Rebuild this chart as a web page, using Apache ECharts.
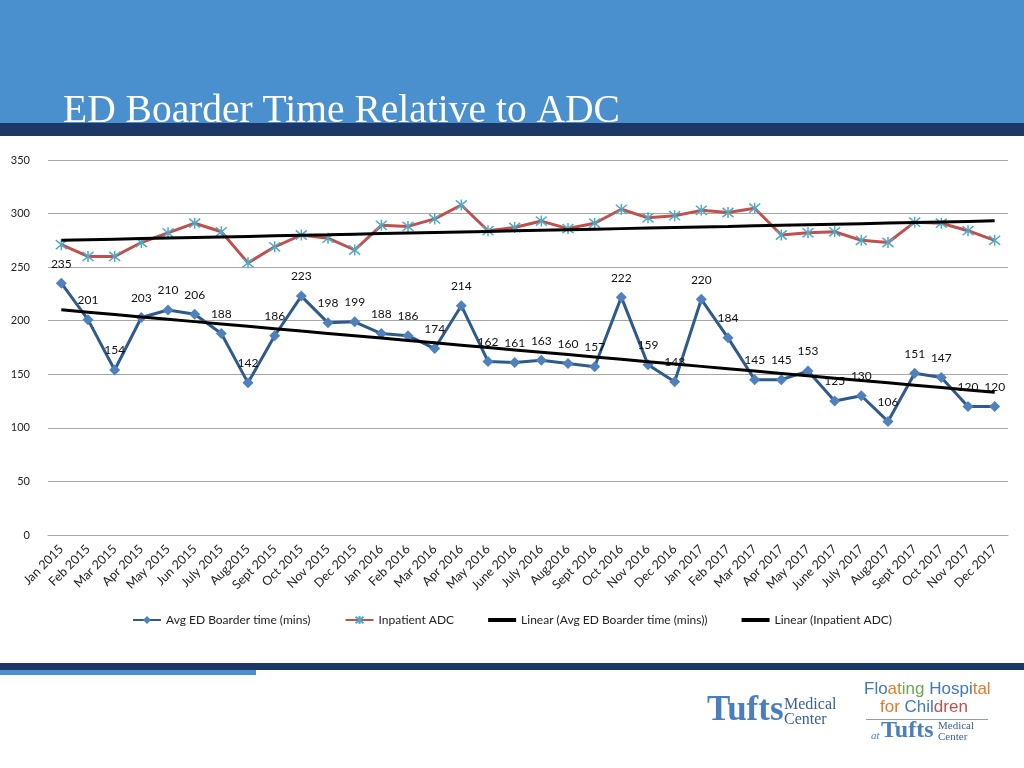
<!DOCTYPE html>
<html>
<head>
<meta charset="utf-8">
<script src="https://cdn.jsdelivr.net/npm/echarts@6/dist/echarts.min.js"></script>
<style>
html,body{margin:0;padding:0;background:#fff;}
#c{width:1024px;height:768px;}
</style>
</head>
<body>
<div id="c"></div>
<script>
var categories = ["Jan 2015","Feb 2015","Mar 2015","Apr 2015","May 2015","Jun 2015","July 2015","Aug2015","Sept 2015","Oct 2015","Nov 2015","Dec 2015",
"Jan 2016","Feb 2016","Mar 2016","Apr 2016","May 2016","June 2016","July 2016","Aug2016","Sept 2016","Oct 2016","Nov 2016","Dec 2016",
"Jan 2017","Feb 2017","Mar 2017","Apr 2017","May 2017","June 2017","July 2017","Aug2017","Sept 2017","Oct 2017","Nov 2017","Dec 2017"];
var avgBoarder = [235,201,154,203,210,206,188,142,186,223,198,199,188,186,174,214,162,161,163,160,157,222,159,143,220,184,145,145,153,125,130,106,151,147,120,120];
var inpatientADC = [271,260,260,273,282,291,283,254,269,280,277,266,289,288,295,308,284,287,293,286,291,304,296,298,303,301,305,280,282,283,275,273,292,291,284,275];
var yTicks = [0,50,100,150,200,250,300,350];

function linearFit(arr){
  var n=arr.length,sx=0,sy=0,sxx=0,sxy=0;
  for(var i=0;i<n;i++){sx+=i;sy+=arr[i];sxx+=i*i;sxy+=i*arr[i];}
  var b=(n*sxy-sx*sy)/(n*sxx-sx*sx), a=(sy-b*sx)/n;
  return arr.map(function(_,i){return +(a+b*i).toFixed(2);});
}
var trendAvg = linearFit(avgBoarder);
var trendADC = linearFit(inpatientADC);

var chart = echarts.init(document.getElementById('c'), null, {renderer:'canvas'});
var font = 'Lato, "Open Sans", sans-serif';
var asterisk = 'path://M0,0 L10,10 M10,0 L0,10 M5,-1 L5,11';
var barIcon = 'path://M0,0 L28,0 L28,4 L0,4 Z';

chart.setOption({
  animation:false,
  backgroundColor:'#fff',
  textStyle:{fontFamily:font},
  graphic:[
    {type:'rect',shape:{x:0,y:0,width:1024,height:123},style:{fill:'#4a90cf'},z:-10},
    {type:'rect',shape:{x:0,y:123,width:1024,height:13},style:{fill:'#1c3866'},z:-10},
    {type:'text',left:63,top:92,style:{text:'ED Boarder Time Relative to ADC',fill:'#fff',font:'39.5px "Liberation Serif", serif'}},
    {type:'rect',shape:{x:0,y:663,width:1024,height:7},style:{fill:'#1c3866'}},
    {type:'rect',shape:{x:0,y:670,width:256,height:5},style:{fill:'#4a90cf'}},
    {type:'text',left:707,top:693,style:{text:'Tufts',fill:'#4a7fbf',font:'bold 35px "Liberation Serif", serif'}},
    {type:'text',left:784,top:697,style:{text:'Medical\nCenter',fill:'#3b5f8f',font:'16px "Liberation Serif", serif',lineHeight:15}},
    {type:'text',left:864,top:681,style:{
      text:'{a|Flo}{b|at}{c|ing }{d|Hos}{a|pi}{b|tal}',
      rich:{a:{fill:'#3f79b8',font:'17px "Liberation Sans Narrow", sans-serif'},b:{fill:'#e07b2a',font:'17px "Liberation Sans Narrow", sans-serif'},c:{fill:'#6aa84f',font:'17px "Liberation Sans Narrow", sans-serif'},d:{fill:'#3f79b8',font:'17px "Liberation Sans Narrow", sans-serif'}}}},
    {type:'text',left:880,top:699,style:{
      text:'{b|for }{a|Chil}{c|dren}',
      rich:{a:{fill:'#3f79b8',font:'17px "Liberation Sans Narrow", sans-serif'},b:{fill:'#e07b2a',font:'17px "Liberation Sans Narrow", sans-serif'},c:{fill:'#c0504d',font:'17px "Liberation Sans Narrow", sans-serif'}}}},
    {type:'rect',shape:{x:866,y:719,width:122,height:1},style:{fill:'#8aa0b8'}},
    {type:'text',left:871,top:731,style:{text:'at',fill:'#4a7fbf',font:'italic 11px "Liberation Serif", serif'}},
    {type:'text',left:881,top:719,style:{text:'Tufts',fill:'#4a7fbf',font:'bold 24px "Liberation Serif", serif'}},
    {type:'text',left:938,top:721,style:{text:'Medical\nCenter',fill:'#3b5f8f',font:'11px "Liberation Serif", serif',lineHeight:11}}
  ],
  grid:{left:48,right:16,top:160,bottom:233,containLabel:false},
  legend:{
    top:609,left:'center',itemGap:34,itemWidth:28,itemHeight:10,
    textStyle:{fontSize:12,color:'#222',fontFamily:font},
    data:[
      {name:'Avg ED Boarder time (mins)'},
      {name:'Inpatient ADC'},
      {name:'Linear (Avg ED Boarder time (mins))',icon:barIcon,itemStyle:{color:'#000'}},
      {name:'Linear (Inpatient ADC)',icon:barIcon,itemStyle:{color:'#000'}}
    ]
  },
  xAxis:{
    type:'category',data:categories,boundaryGap:true,
    axisLine:{show:true,lineStyle:{color:'#a6a6a6'}},
    axisTick:{show:false},
    axisLabel:{interval:0,rotate:45,fontSize:12.5,color:'#222',margin:12,fontFamily:font}
  },
  yAxis:{
    type:'value',min:yTicks[0],max:yTicks[yTicks.length-1],interval:50,
    axisLine:{show:false},axisTick:{show:false},
    axisLabel:{fontSize:11,color:'#222',margin:18,fontFamily:font},
    splitLine:{lineStyle:{color:'#a6a6a6',width:1}}
  },
  series:[
    {name:'Avg ED Boarder time (mins)',type:'line',data:avgBoarder,
     symbol:'diamond',symbolSize:11,
     lineStyle:{color:'#2e5a8e',width:3},
     itemStyle:{color:'#4f81bd'},
     label:{show:true,position:'top',distance:8,fontSize:12,color:'#111',fontFamily:font},
     z:3},
    {name:'Inpatient ADC',type:'line',data:inpatientADC,
     symbol:asterisk,symbolSize:11,
     lineStyle:{color:'#c0504d',width:3},
     itemStyle:{color:'rgba(0,0,0,0)',borderColor:'#4bacc6',borderWidth:1.5},
     z:3},
    {name:'Linear (Avg ED Boarder time (mins))',type:'line',data:trendAvg,
     showSymbol:false,symbol:'none',lineStyle:{color:'#000',width:3},itemStyle:{color:'#000'},z:4},
    {name:'Linear (Inpatient ADC)',type:'line',data:trendADC,
     showSymbol:false,symbol:'none',lineStyle:{color:'#000',width:3},itemStyle:{color:'#000'},z:4}
  ]
});
</script>
</body>
</html>
